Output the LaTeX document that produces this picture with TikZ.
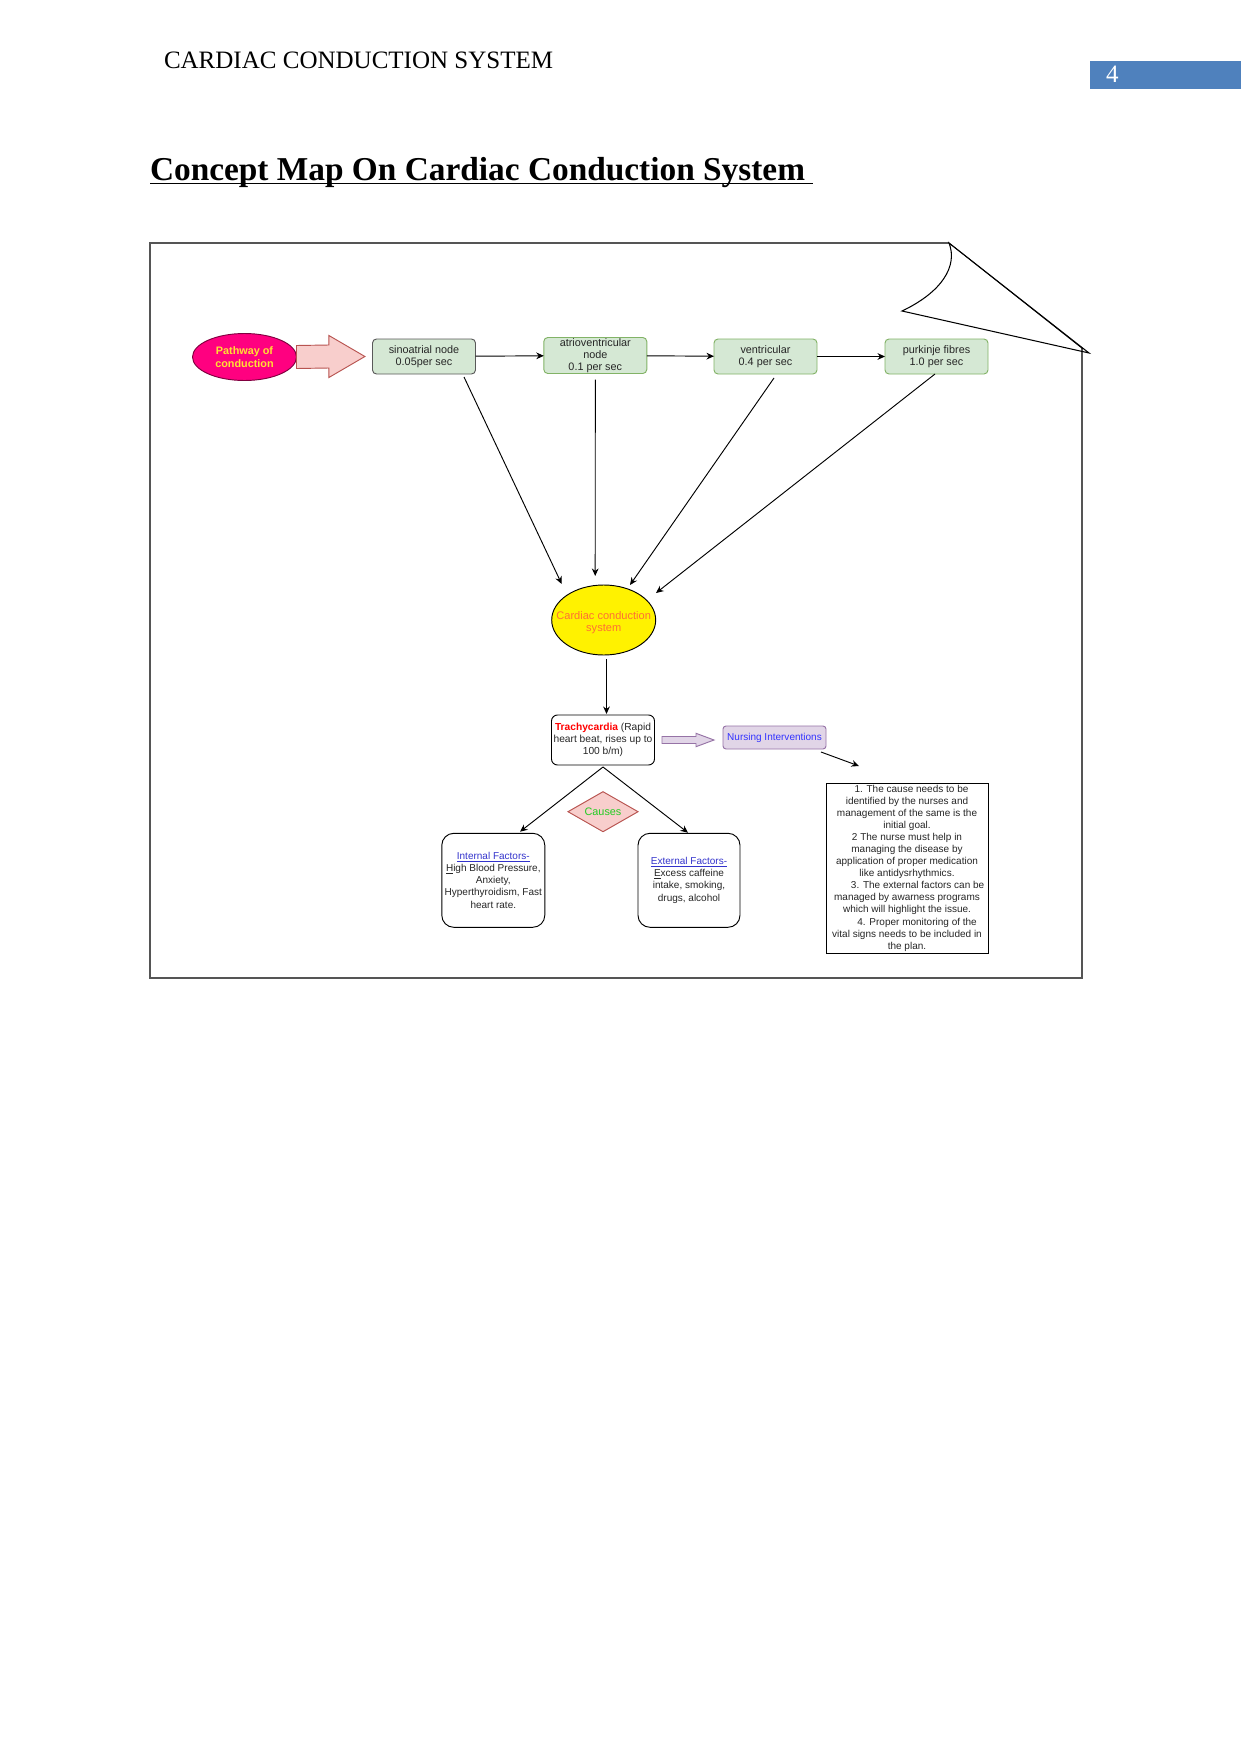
\documentclass[tikz,border=0pt]{standalone}
\usepackage{fontspec}
\setmainfont{Liberation Serif}
\newfontfamily\arial{Liberation Sans}
\usetikzlibrary{shapes.geometric,arrows.meta,calc}
\def\PX{*0.4797pt}
\newsavebox\ulbox
\newcommand\myul[1]{\sbox\ulbox{#1}\rlap{\rule[-0.75pt]{\wd\ulbox}{0.3pt}}\usebox\ulbox}
\definecolor{gfill}{HTML}{D5E8D4}
\definecolor{gdraw}{HTML}{82B366}
\definecolor{pinkfill}{HTML}{F8CECC}
\definecolor{pinkdraw}{HTML}{B85450}
\definecolor{purfill}{HTML}{E1D5E7}
\definecolor{purdraw}{HTML}{9673A6}
\definecolor{pwfill}{HTML}{FF0080}
\definecolor{pwdraw}{HTML}{80003F}
\definecolor{pwtext}{HTML}{FFE033}
\definecolor{ccstext}{HTML}{FF7033}
\definecolor{nurseblue}{HTML}{3333FF}
\definecolor{linkblue}{HTML}{3333CC}
\definecolor{causegreen}{HTML}{22CC22}
\definecolor{pageblue}{HTML}{4F81BD}
\definecolor{txtgray}{HTML}{262626}
\definecolor{framec}{HTML}{555555}
\begin{document}
\begin{tikzpicture}[x=0.4797pt,y=-0.4797pt,
  every node/.style={inner sep=0pt, outer sep=0pt},
  base/.style={font=\arial\fontsize{5.2}{5.9}\selectfont, align=center, text=txtgray},
  small/.style={font=\arial\fontsize{4.8}{5.8}\selectfont, align=center, text=txtgray},
  gbox/.style={base, draw=gdraw, fill=gfill, rounded corners=4\PX, minimum width=103\PX, minimum height=35\PX, line width=0.45pt},
  arr/.style={-{Stealth[length=3.6pt,width=3.2pt]}, line width=0.45pt, black},
  thin/.style={line width=0.45pt}]
\useasboundingbox[fill=white] (0,0) rectangle (1241,1754);

% page header
\node[anchor=base west, font=\fontsize{12}{14}\selectfont] (hdr) at (164,69) {CARDIAC CONDUCTION SYSTEM};
\fill[pageblue] (1090,61) rectangle (1241,89);
\node[anchor=base west, font=\fontsize{12}{14}\selectfont, text=white] (pg) at (1106,83) {4};

% title
\node[anchor=base west, font=\fontsize{16}{19}\selectfont\bfseries] (title) at (150,180) {Concept Map On Cardiac Conduction System};
\draw[line width=0.75pt] ($(title.base west)+(0,3.5)$) -- ($(title.base east)+(8,3.5)$);

% frame with page curl
\draw[framec, line width=0.5pt] (949,243) -- (150,243) -- (150,978) -- (1082,978) -- (1082,348);
\draw[black, line width=0.5pt] (949,243) .. controls (958,266) and (942,292) .. (902,311) -- (1089,353) -- cycle;
\draw[black, line width=0.4pt] (949,243) -- (1083,349);

% nodes
\node[ellipse, draw=pwdraw, fill=pwfill, minimum width=104\PX, minimum height=47\PX, thin] (pw) at (244.5,357) {};
\node[font=\arial\bfseries\fontsize{5.2}{5.9}\selectfont, text=pwtext, align=center] (pwt) at (pw) {Pathway of\\conduction};
\node[gbox, draw=black!65] (sa) at (424,356.5) {sinoatrial node\\0.05per sec};
\node[gbox, minimum height=36\PX] (av) at (595.3,355.5) {atrioventricular\\node\\0.1 per sec};
\node[gbox] (ve) at (765.5,356.5) {ventricular\\0.4 per sec};
\node[gbox] (pk) at (936.5,356.5) {purkinje fibres\\1.0 per sec};

\node[ellipse, draw=black, fill=yellow, thin, minimum width=104\PX, minimum height=70\PX] (ccs) at (603.7,620) {};
\node[font=\arial\fontsize{5.3}{6.1}\selectfont, text=ccstext, align=center] (ccst) at ($(ccs)+(0,2.5)$) {Cardiac conduction\\system};

\node[small, font=\arial\fontsize{4.9}{5.9}\selectfont, draw=black, fill=white, thin, rounded corners=6\PX,
      minimum width=103\PX, minimum height=50\PX] (tr) at (603,740)
      {{\color{red}\bfseries Trachycardia} (Rapid\\heart beat, rises up to\\100 b/m)};

\node[small, draw=purdraw, fill=purfill, thin, rounded corners=3\PX, minimum width=103\PX, minimum height=23\PX,
      text=nurseblue] (nu) at (774.5,737.5) {Nursing Interventions};

\node[small, draw=black, fill=white, thin, minimum width=162\PX, minimum height=170\PX] (notes) at (907,868)
  {\hspace*{4.3pt}1. The cause needs to be\\
   identified by the nurses and\\
   management of the same is the\\
   initial goal.\\
   2 The nurse must help in\\
   managing the disease by\\
   application of proper medication\\
   like antidysrhythmics.\\
   \hspace*{10.2pt}3. The external factors can be\\
   managed by awarness programs\\
   which will highlight the issue.\\
   \hspace*{9.7pt}4. Proper monitoring of the\\
   vital signs needs to be included in\\
   the plan.};

\node[diamond, aspect=1.75, draw=pinkdraw, fill=pinkfill, thin, minimum width=70\PX, minimum height=40\PX,
      font=\arial\fontsize{5.2}{5.9}\selectfont, text=causegreen] (ca) at (603,811.7) {Causes};

\node[small, draw=black, fill=white, thin, rounded corners=12\PX, minimum width=103\PX, minimum height=94\PX] (inf) at (493.3,880.3)
  {{\color{linkblue}\myul{Internal Factors-}}\\
   \myul{H}igh Blood Pressure,\\
   Anxiety,\\
   Hyperthyroidism, Fast\\
   heart rate.};
\node[small, draw=black, fill=white, thin, rounded corners=12\PX, minimum width=102\PX, minimum height=94\PX] (exf) at (689,880.3)
  {{\color{linkblue}\myul{External Factors-}}\\
   \myul{E}xcess caffeine\\
   intake, smoking,\\
   drugs, alcohol};

% big pink arrow from pathway to sinoatrial node
\coordinate (bt) at (pw.east);
\coordinate (bh) at ($(sa.west)+(-7.6,0)$);
\filldraw[fill=pinkfill, draw=pinkdraw, thin]
  ($(bt)+(0,-11.5)$) -- ($(bh)+(-36,-11.5)$) -- ($(bh)+(-36,-21)$) -- (bh)
  -- ($(bh)+(-36,21)$) -- ($(bh)+(-36,11.5)$) -- ($(bt)+(0,11.5)$) -- cycle;

% chain arrows
\draw[arr] (sa) -- (av);
\draw[arr] (av) -- (ve);
\draw[arr] (ve) -- (pk);

% arrows into cardiac conduction system
\draw[arr] ($(sa.south)+(40,3)$) -- ($(ccs.center)+(-42,-36)$);
\draw[arr] ($(av.south)+(0,6)$) -- ($(ccs.north)+(-8.5,-9)$);
\draw[arr] ($(ve.south)+(8.5,4)$) -- ($(ccs.center)+(26.3,-35)$);
\draw[arr] ($(pk.south)+(-1.5,0)$) -- ($(ccs.center)+(52.3,-27)$);

% down to trachycardia
\draw[arr] ($(ccs.south)+(2.8,4)$) -- ($(tr.north)+(3.5,-1)$);

% purple arrow to nursing interventions
\coordinate (pt) at ($(tr.east)+(7.5,0)$);
\coordinate (ph) at ($(nu.west)+(-9,2.5)$);
\filldraw[fill=purfill, draw=purdraw, thin]
  ($(pt)+(0,-3.5)$) -- ($(ph)+(-18,-3.5)$) -- ($(ph)+(-18,-6.7)$) -- (ph)
  -- ($(ph)+(-18,6.7)$) -- ($(ph)+(-18,3.5)$) -- ($(pt)+(0,3.5)$) -- cycle;

% nursing to notes
\draw[arr] ($(nu.south east)+(-5,3)$) -- ($(notes.north)+(-48,-17)$);

% trachycardia to factors
\draw[arr] ($(tr.south)+(0,2)$) -- ($(inf.north)+(26.7,-1.6)$);
\draw[arr] ($(tr.south)+(0,2)$) -- ($(exf.north)+(-1,-0.6)$);
\end{tikzpicture}
\end{document}
